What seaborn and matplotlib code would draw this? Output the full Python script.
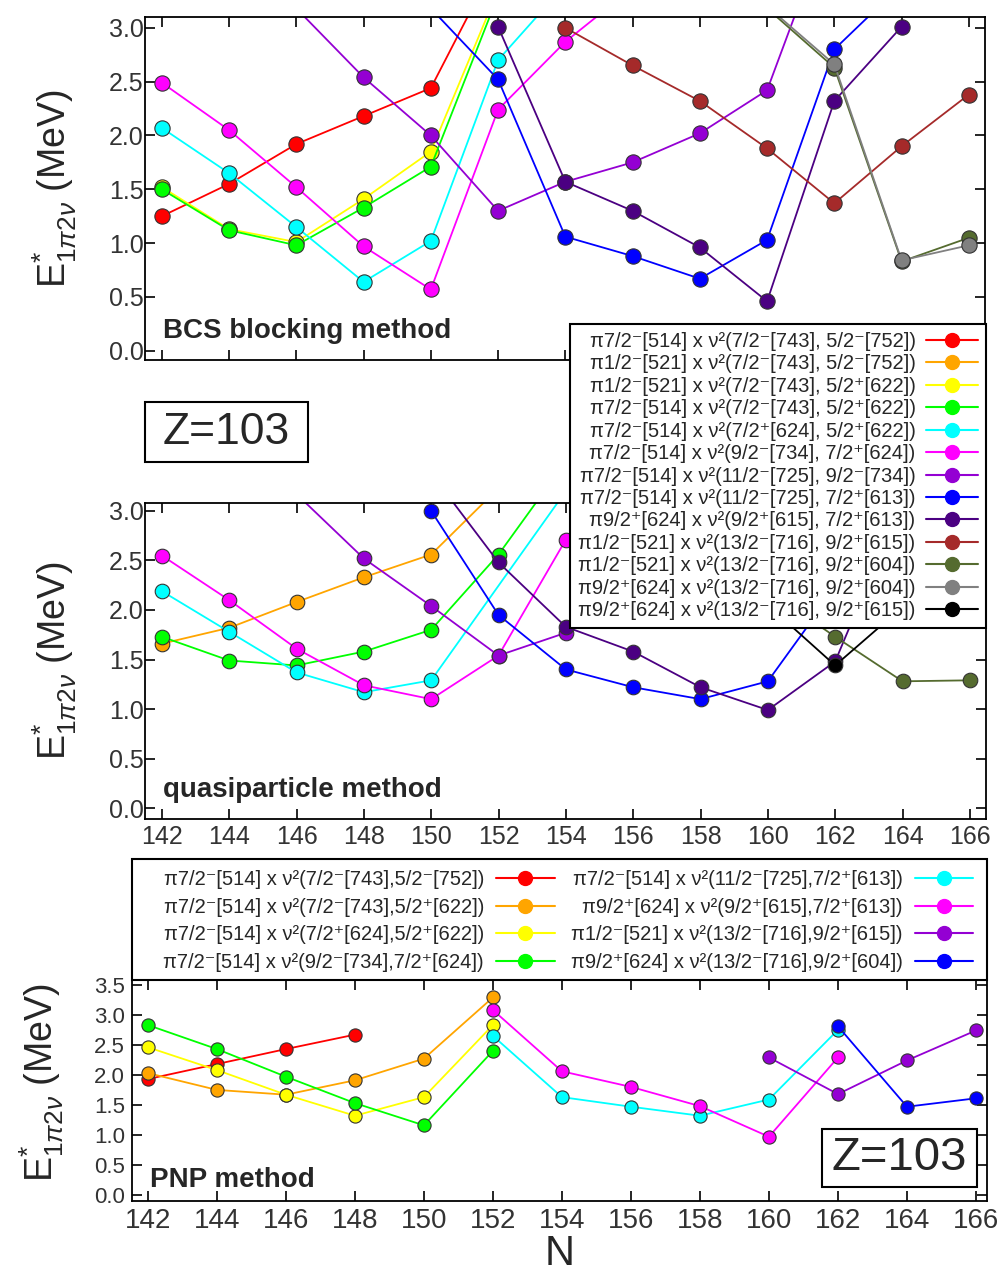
import re
import numpy as np
import pandas as pd
import matplotlib
matplotlib.use("Agg")
import matplotlib.pyplot as plt
import seaborn as sns
from matplotlib.lines import Line2D
from matplotlib.patches import Rectangle

# ------------------------------------------------------------------ data
# configuration labels / colours for the BCS and quasiparticle panels
cfg_labels = [
    "π7/2^-[514] x ν^2(7/2^-[743], 5/2^-[752])",
    "π1/2^-[521] x ν^2(7/2^-[743], 5/2^-[752])",
    "π1/2^-[521] x ν^2(7/2^-[743], 5/2^+[622])",
    "π7/2^-[514] x ν^2(7/2^-[743], 5/2^+[622])",
    "π7/2^-[514] x ν^2(7/2^+[624], 5/2^+[622])",
    "π7/2^-[514] x ν^2(9/2^-[734], 7/2^+[624])",
    "π7/2^-[514] x ν^2(11/2^-[725], 9/2^-[734])",
    "π7/2^-[514] x ν^2(11/2^-[725], 7/2^+[613])",
    "π9/2^+[624] x ν^2(9/2^+[615], 7/2^+[613])",
    "π1/2^-[521] x ν^2(13/2^-[716], 9/2^+[615])",
    "π1/2^-[521] x ν^2(13/2^-[716], 9/2^+[604])",
    "π9/2^+[624] x ν^2(13/2^-[716], 9/2^+[604])",
    "π9/2^+[624] x ν^2(13/2^-[716], 9/2^+[615])",
]
cfg_colors = ["#FF0000", "#FFA500", "#FFFF00", "#00FF00", "#00FFFF", "#FF00FF",
              "#9400D3", "#0000FF", "#4B0082", "#A52A2A", "#556B2F", "#808080",
              "#000000"]

# configuration labels / colours for the PNP panel
pnp_labels = [
    "π7/2^-[514] x ν^2(7/2^-[743],5/2^-[752])",
    "π7/2^-[514] x ν^2(7/2^-[743],5/2^+[622])",
    "π7/2^-[514] x ν^2(7/2^+[624],5/2^+[622])",
    "π7/2^-[514] x ν^2(9/2^-[734],7/2^+[624])",
    "π7/2^-[514] x ν^2(11/2^-[725],7/2^+[613])",
    "π9/2^+[624] x ν^2(9/2^+[615],7/2^+[613])",
    "π1/2^-[521] x ν^2(13/2^-[716],9/2^+[615])",
    "π9/2^+[624] x ν^2(13/2^-[716],9/2^+[604])",
]
pnp_colors = ["#FF0000", "#FFA500", "#FFFF00", "#00FF00",
              "#00FFFF", "#FF00FF", "#9400D3", "#0000FF"]

N_ticks = [142, 144, 146, 148, 150, 152, 154, 156, 158, 160, 162, 164, 166]

# --- BCS blocking method (series index -> N, E)
bcs_red_N = [142, 144, 146, 148, 150, 152]
bcs_red_E = [1.25, 1.55, 1.92, 2.18, 2.44, 3.65]
bcs_yellow_N = [142, 144, 146, 148, 150, 152]
bcs_yellow_E = [1.52, 1.13, 1.01, 1.41, 1.85, 3.35]
bcs_green_N = [142, 144, 146, 148, 150, 152]
bcs_green_E = [1.50, 1.12, 0.98, 1.33, 1.71, 3.30]
bcs_cyan_N = [142, 144, 146, 148, 150, 152, 154]
bcs_cyan_E = [2.07, 1.65, 1.15, 0.64, 1.02, 2.70, 3.40]
bcs_magenta_N = [142, 144, 146, 148, 150, 152, 154, 156]
bcs_magenta_E = [2.49, 2.05, 1.52, 0.97, 0.57, 2.24, 2.87, 3.37]
bcs_purple_N = [146, 148, 150, 152, 154, 156, 158, 160, 162]
bcs_purple_E = [3.18, 2.54, 2.00, 1.30, 1.57, 1.75, 2.02, 2.42, 4.10]
bcs_blue_N = [150, 152, 154, 156, 158, 160, 162, 164]
bcs_blue_E = [3.18, 2.52, 1.06, 0.88, 0.67, 1.03, 2.80, 3.40]
bcs_indigo_N = [152, 154, 156, 158, 160, 162, 164]
bcs_indigo_E = [3.01, 1.57, 1.30, 0.96, 0.46, 2.32, 3.01]
bcs_brown_N = [154, 156, 158, 160, 162, 164, 166]
bcs_brown_E = [3.00, 2.65, 2.32, 1.88, 1.37, 1.90, 2.38]
bcs_olive_N = [160, 162, 164, 166]
bcs_olive_E = [3.18, 2.63, 0.83, 1.05]
bcs_gray_N = [160, 162, 164, 166]
bcs_gray_E = [3.20, 2.66, 0.84, 0.98]

# --- quasiparticle method
qp_orange_N = [142, 144, 146, 148, 150, 152]
qp_orange_E = [1.66, 1.82, 2.08, 2.33, 2.56, 3.23]
qp_green_N = [142, 144, 146, 148, 150, 152, 154]
qp_green_E = [1.73, 1.49, 1.44, 1.58, 1.80, 2.56, 3.50]
qp_cyan_N = [142, 144, 146, 148, 150, 154]
qp_cyan_E = [2.19, 1.78, 1.37, 1.17, 1.29, 3.20]
qp_magenta_N = [142, 144, 146, 148, 150, 152, 154]
qp_magenta_E = [2.55, 2.10, 1.61, 1.24, 1.10, 1.54, 2.71]
qp_purple_N = [146, 148, 150, 152, 154]
qp_purple_E = [3.17, 2.52, 2.04, 1.54, 1.77]
qp_blue_N = [150, 152, 154, 156, 158, 160, 162]
qp_blue_E = [3.00, 1.95, 1.40, 1.22, 1.10, 1.28, 2.22]
qp_indigo_N = [150, 152, 154, 156, 158, 160, 162, 164]
qp_indigo_E = [3.38, 2.48, 1.83, 1.58, 1.22, 0.99, 1.48, 3.10]
qp_olive_N = [160, 162, 164, 166]
qp_olive_E = [2.20, 1.73, 1.28, 1.29]
qp_black_N = [160, 162, 164]
qp_black_E = [2.05, 1.44, 2.03]

# --- PNP method
pnp_red_N = [142, 144, 146, 148]
pnp_red_E = [1.93, 2.18, 2.43, 2.67]
pnp_orange_N = [142, 144, 146, 148, 150, 152]
pnp_orange_E = [2.03, 1.75, 1.67, 1.91, 2.27, 3.29]
pnp_yellow_N = [142, 144, 146, 148, 150, 152]
pnp_yellow_E = [2.46, 2.08, 1.67, 1.32, 1.63, 2.83]
pnp_green_N = [142, 144, 146, 148, 150, 152]
pnp_green_E = [2.83, 2.43, 1.97, 1.53, 1.16, 2.40]
pnp_cyan_N = [152, 154, 156, 158, 160, 162]
pnp_cyan_E = [2.65, 1.63, 1.47, 1.32, 1.59, 2.75]
pnp_magenta_N = [152, 154, 156, 158, 160, 162]
pnp_magenta_E = [3.08, 2.06, 1.80, 1.48, 0.97, 2.29]
pnp_purple_N = [160, 162, 164, 166]
pnp_purple_E = [2.29, 1.68, 2.24, 2.74]
pnp_blue_N = [162, 164, 166]
pnp_blue_E = [2.81, 1.47, 1.61]

# ------------------------------------------------------------------ helpers
SUP = {"-": "\u207b", "+": "\u207a", "2": "\u00b2"}

def sup(s):
    return re.sub(r"\^([-+2])", lambda m: SUP[m.group(1)], s)

def frame(entries):
    rows = []
    for idx, Ns, Es in entries:
        for n, e in zip(Ns, Es):
            rows.append({"cfg": idx, "N": n, "E": e})
    return pd.DataFrame(rows)

bcs_df = frame([(0, bcs_red_N, bcs_red_E), (2, bcs_yellow_N, bcs_yellow_E),
                (3, bcs_green_N, bcs_green_E), (4, bcs_cyan_N, bcs_cyan_E),
                (5, bcs_magenta_N, bcs_magenta_E), (6, bcs_purple_N, bcs_purple_E),
                (7, bcs_blue_N, bcs_blue_E), (8, bcs_indigo_N, bcs_indigo_E),
                (9, bcs_brown_N, bcs_brown_E), (10, bcs_olive_N, bcs_olive_E),
                (11, bcs_gray_N, bcs_gray_E)])
qp_df = frame([(1, qp_orange_N, qp_orange_E), (3, qp_green_N, qp_green_E),
               (4, qp_cyan_N, qp_cyan_E), (5, qp_magenta_N, qp_magenta_E),
               (6, qp_purple_N, qp_purple_E), (7, qp_blue_N, qp_blue_E),
               (8, qp_indigo_N, qp_indigo_E), (10, qp_olive_N, qp_olive_E),
               (12, qp_black_N, qp_black_E)])
pnp_df = frame([(0, pnp_red_N, pnp_red_E), (1, pnp_orange_N, pnp_orange_E),
                (2, pnp_yellow_N, pnp_yellow_E), (3, pnp_green_N, pnp_green_E),
                (4, pnp_cyan_N, pnp_cyan_E), (5, pnp_magenta_N, pnp_magenta_E),
                (6, pnp_purple_N, pnp_purple_E), (7, pnp_blue_N, pnp_blue_E)])

# ------------------------------------------------------------------ style
sns.set_theme(style="ticks")
plt.rcParams["font.family"] = ["Liberation Sans", "DejaVu Sans"]
plt.rcParams["mathtext.fontset"] = "custom"
plt.rcParams["mathtext.rm"] = "Liberation Sans"
plt.rcParams["mathtext.it"] = "Liberation Sans:italic"
plt.rcParams["mathtext.bf"] = "Liberation Sans:bold"

W, H = 1000, 1278
fig = plt.figure(figsize=(W / 100, H / 100), dpi=100)

def box(l, t, r, b):
    return [l / W, 1 - b / H, (r - l) / W, (b - t) / H]

ax1 = fig.add_axes(box(145, 17, 985, 360))
ax2 = fig.add_axes(box(145, 503, 986, 819))
ax3 = fig.add_axes(box(132, 980, 987, 1201))

ylab = r"$\mathrm{E}^{*}_{1\pi2\nu}$ (MeV)"

def draw(ax, df, colors, ms):
    pal = {i: colors[i] for i in df["cfg"].unique()}
    order = sorted(df["cfg"].unique())
    sns.lineplot(data=df, x="N", y="E", hue="cfg", hue_order=order, palette=pal,
                 estimator=None, sort=False, legend=False, ax=ax,
                 marker="o", markersize=ms, markeredgecolor="#333333",
                 markeredgewidth=0.8, linewidth=1.3)

def style(ax, ylim, xlim, yticks, xlabels, ysize, xsize, ypad, xpad):
    ax.set_xlim(*xlim)
    ax.set_ylim(*ylim)
    ax.set_xticks(N_ticks)
    ax.set_yticks(yticks)
    ax.set_yticklabels([f"{v:.1f}" for v in yticks])
    ax.tick_params(direction="in", length=7, width=1.2, top=True, right=True,
                   colors="black", labelcolor="#333333")
    ax.tick_params(axis="y", labelsize=ysize, pad=ypad)
    ax.tick_params(axis="x", labelsize=xsize, pad=xpad, labelbottom=xlabels)
    for sp in ax.spines.values():
        sp.set_linewidth(1.3)
        sp.set_color("black")
    ax.set_xlabel("")

draw(ax1, bcs_df, cfg_colors, 11)
draw(ax2, qp_df, cfg_colors, 10.5)
draw(ax3, pnp_df, pnp_colors, 9.5)

style(ax1, (-0.085, 3.10), (141.5, 166.48), np.arange(0, 3.01, 0.5), False, 18, 18, 1, 4)
style(ax2, (-0.11, 3.08), (141.5, 166.48), np.arange(0, 3.01, 0.5), True, 18, 18, 1, 4)
style(ax3, (-0.10, 3.58), (141.54, 166.32), np.arange(0, 3.51, 0.5), True, 16, 20, 5, 5)

for ax, xc, yc in [(ax1, -0.107, 0.5), (ax2, -0.107, 0.5), (ax3, -0.105, 0.534)]:
    ax.set_ylabel(ylab, fontsize=27, va="center")
    ax.yaxis.set_label_coords(xc, yc)

ax3.set_xlabel("N", fontsize=30, labelpad=0)

# method captions
ax1.text(0.021, 0.064, "BCS blocking method", transform=ax1.transAxes,
         fontsize=20, fontweight="bold", ha="left", va="baseline")
ax2.text(0.021, 0.07, "quasiparticle method", transform=ax2.transAxes,
         fontsize=20, fontweight="bold", ha="left", va="baseline")
ax3.text(0.021, 0.063, "PNP method", transform=ax3.transAxes,
         fontsize=20, fontweight="bold", ha="left", va="baseline")

# Z=103 boxes
def zbox(l, t, r, b, fs):
    fig.patches.append(Rectangle((l / W, 1 - b / H), (r - l) / W, (b - t) / H,
                                 transform=fig.transFigure, facecolor="white",
                                 edgecolor="black", linewidth=1.5, zorder=3))
    fig.text((l + r) / 2 / W, 1 - (t + b) / 2 / H, "Z=103", fontsize=fs,
             ha="center", va="center", zorder=4)

zbox(145, 402, 308, 462, 32)
zbox(822, 1129, 977, 1187, 34)

# legend for BCS / quasiparticle panels
h1 = [Line2D([0], [0], color=c, lw=1.5, marker="o", markersize=10,
             markeredgecolor=c) for c in cfg_colors]
leg1 = fig.legend(h1, [sup(s) for s in cfg_labels], loc="upper right",
                  bbox_to_anchor=(986 / W, 1 - 324 / H), markerfirst=False,
                  frameon=True, fancybox=False, edgecolor="black", framealpha=1,
                  fontsize=14.5, labelspacing=0.17, handlelength=2.6,
                  handletextpad=0.5, borderpad=0.4, borderaxespad=0)
leg1.get_frame().set_linewidth(1.5)

# legend for PNP panel
fig.patches.append(Rectangle((132 / W, 1 - 980 / H), 855 / W, 121 / H,
                             transform=fig.transFigure, facecolor="white",
                             edgecolor="black", linewidth=1.5, zorder=1))
h3 = [Line2D([0], [0], color=c, lw=1.5, marker="o", markersize=10,
             markeredgecolor=c) for c in pnp_colors]
leg3 = fig.legend(h3, [sup(s) for s in pnp_labels], loc="center right",
                  bbox_to_anchor=(973 / W, 1 - 921 / H), ncol=2, markerfirst=False,
                  frameon=False, fontsize=14.5, labelspacing=0.42, handlelength=2.9,
                  handletextpad=0.6, columnspacing=0.8, borderpad=0, borderaxespad=0)

fig.savefig("out.png", dpi=100)
